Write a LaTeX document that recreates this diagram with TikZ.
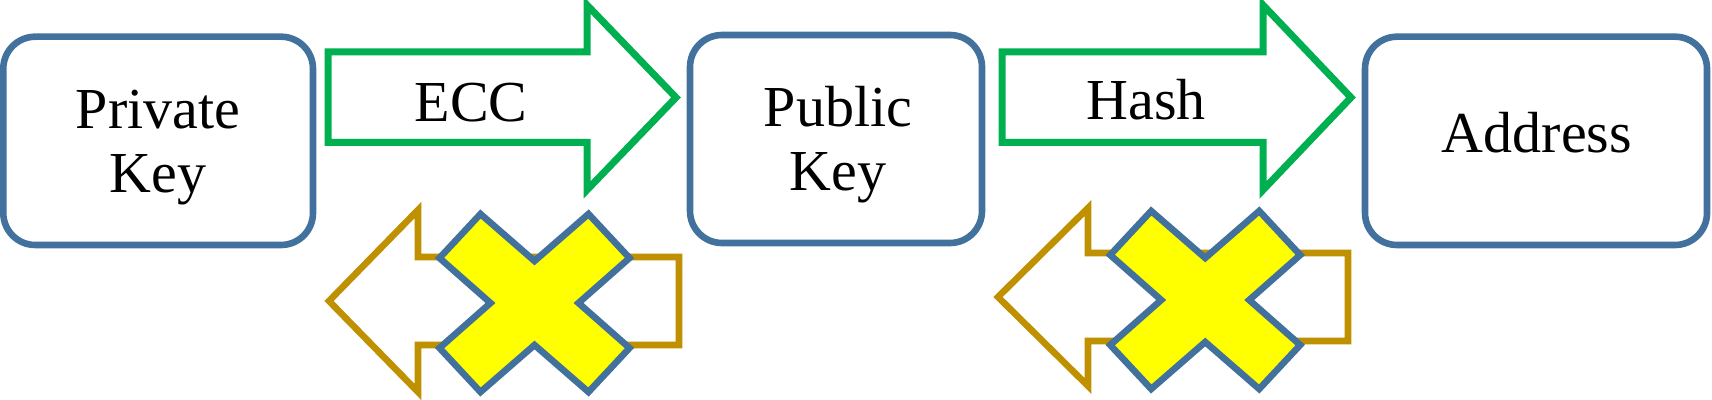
\documentclass[tikz,border=0pt]{standalone}
\usepackage{fontspec}
\setmainfont{Liberation Serif}
\definecolor{boxblue}{HTML}{41719C}
\definecolor{arrgreen}{HTML}{00B050}
\definecolor{arrgold}{HTML}{BF9000}
\definecolor{xyellow}{HTML}{FFFF00}
\tikzset{
  keybox/.style={draw=boxblue, line width=3.3pt, rounded corners=16pt, fill=white},
  fwdarrow/.style={draw=arrgreen, line width=3.5pt, fill=white, line join=miter},
  backarrow/.style={draw=arrgold, line width=3.3pt, fill=white, line join=miter},
  xborder/.style={draw=boxblue, line width=3.3pt, fill=xyellow, line join=miter},
  lbl/.style={font=\fontsize{29pt}{32.3pt}\selectfont, align=center, inner sep=0pt},
  crossmark/.pic={
    \path[xborder] (-95,-45) -- (-54,-89) -- (0,-42) -- (54,-89) -- (95,-45) -- (44,0)
      -- (95,45) -- (54,89) -- (0,42) -- (-54,89) -- (-95,45) -- (-44,0) -- cycle;
  }
}
\begin{document}
\begin{tikzpicture}[x=0.5pt, y=-0.5pt]
\useasboundingbox (0,0) rectangle (1712,400);
% boxes
\path[keybox] (3.3,36.7) rectangle (313,245);
\path[keybox] (690,35) rectangle (982,243);
\path[keybox] (1365,36.7) rectangle (1707,245);
% forward arrows
\path[fwdarrow] (328,52) -- (587,52) -- (587,5) -- (676,97.5) -- (587,190) -- (587,142.5) -- (328,142.5) -- cycle;
\path[fwdarrow] (1002,52) -- (1263,52) -- (1263,5) -- (1351,97.5) -- (1263,190) -- (1263,142.5) -- (1002,142.5) -- cycle;
% back arrows
\path[backarrow] (679,257) -- (418,257) -- (418,210) -- (329,301) -- (418,392) -- (418,345) -- (679,345) -- cycle;
\path[backarrow] (1348,253) -- (1088,253) -- (1088,208) -- (998,297) -- (1088,386) -- (1088,341) -- (1348,341) -- cycle;
% crosses
\pic (x1) at (534.5,303) {crossmark};
\pic (x2) at (1205.2,300) {crossmark};
% labels (base = baseline of the last line)
\node[lbl, anchor=base] (tpriv) at (158,193) {Private\\Key};
\node[lbl, anchor=base] (tecc) at (471,121.7) {ECC};
\node[lbl, anchor=base] (tpub) at (838,191) {Public\\Key};
\node[lbl, anchor=base] (thash) at (1146,120) {Hash};
\node[lbl, anchor=base] (taddr) at (1537,153) {Address};
\end{tikzpicture}
\end{document}
